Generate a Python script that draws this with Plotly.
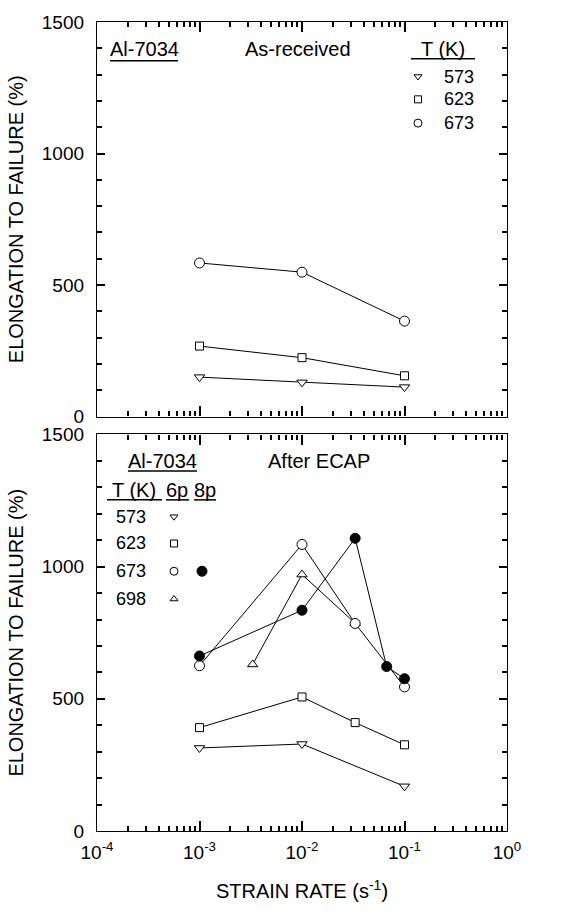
import plotly.graph_objects as go

# ---------------- data ----------------
rate_top = [1e-3, 1e-2, 1e-1]
top_573 = [150, 130, 112]
top_623 = [268, 224, 155]
top_673 = [584, 549, 363]

rate_573 = [1e-3, 1e-2, 1e-1]
ecap_573 = [314, 329, 169]
rate_623 = [1e-3, 1e-2, 3.3e-2, 1e-1]
ecap_623 = [391, 507, 410, 326]
rate_673_6p = [1e-3, 1e-2, 3.3e-2, 1e-1]
ecap_673_6p = [625, 1084, 785, 545]
rate_698 = [3.3e-3, 1e-2, 3.3e-2]
ecap_698 = [630, 970, 786]
rate_673_8p = [1e-3, 1e-2, 3.3e-2, 6.7e-2, 1e-1]
ecap_673_8p = [662, 835, 1107, 622, 576]

x_tickvals = [1e-4, 1e-3, 1e-2, 1e-1, 1]
x_ticktext = ["10<sup>-4</sup>", "10<sup>-3</sup>", "10<sup>-2</sup>", "10<sup>-1</sup>", "10<sup>0</sup>"]
y_tickvals = [0, 500, 1000, 1500]
temps_top = ["573", "623", "673"]
temps_bottom = ["573", "623", "673", "698"]

# ---------------- layout geometry (pixels) ----------------
W, H = 578, 911
L, R, T, B = 97, 71, 20, 75
PW, PH = W - L - R, H - T - B
top_px = (20, 418)
bot_px = (436, 836)
XMIN, XMAX = -4, 0
YMIN, YMAX = 0, 1500


def px(xp):
    return (xp - L) / PW


def py(yp):
    return (H - B - yp) / PH


def data_x(xp):
    return 10 ** (XMIN + (xp - L) / PW * (XMAX - XMIN))


def data_y(yp, panel):
    y0, y1 = panel
    return YMIN + (y1 - yp) / (y1 - y0) * (YMAX - YMIN)


FONT = "Liberation Sans, Arial, sans-serif"
BLACK = "black"

fig = go.Figure()


def mk_style(symbol, size, filled=False):
    return dict(symbol=symbol, size=size, color=BLACK if filled else "white",
                line=dict(color=BLACK, width=1))


def add_series(x, y, symbol, size, xa, ya, filled=False):
    fig.add_trace(go.Scatter(x=x, y=y, mode="lines+markers", xaxis=xa, yaxis=ya,
                             line=dict(color=BLACK, width=1),
                             marker=mk_style(symbol, size, filled),
                             showlegend=False, hoverinfo="skip"))


# top panel
add_series(rate_top, top_573, "triangle-down", 9, "x", "y")
add_series(rate_top, top_623, "square", 8, "x", "y")
add_series(rate_top, top_673, "circle", 10, "x", "y")
# bottom panel
add_series(rate_573, ecap_573, "triangle-down", 9, "x2", "y2")
add_series(rate_623, ecap_623, "square", 8, "x2", "y2")
add_series(rate_698, ecap_698, "triangle-up", 9, "x2", "y2")
add_series(rate_673_6p, ecap_673_6p, "circle", 10, "x2", "y2")
add_series(rate_673_8p, ecap_673_8p, "circle", 10, "x2", "y2", filled=True)

# legend keys (positions in pixels converted through axis scales)
leg_top_x = 418
leg_top_y = [75, 98, 122]
leg_top_sym = ["triangle-down", "square", "circle"]
leg_top_size = [7, 7, 8]
for s, yp, sz in zip(leg_top_sym, leg_top_y, leg_top_size):
    fig.add_trace(go.Scatter(x=[data_x(leg_top_x)], y=[data_y(yp, top_px)], mode="markers",
                             xaxis="x", yaxis="y", marker=mk_style(s, sz),
                             showlegend=False, hoverinfo="skip"))
leg_bot_x = 174
leg_bot_y = [519, 546, 574, 602]
leg_bot_sym = ["triangle-down", "square", "circle", "triangle-up"]
leg_bot_size = [7, 7, 8, 7]
for s, yp, sz in zip(leg_bot_sym, leg_bot_y, leg_bot_size):
    fig.add_trace(go.Scatter(x=[data_x(leg_bot_x)], y=[data_y(yp, bot_px)], mode="markers",
                             xaxis="x2", yaxis="y2", marker=mk_style(s, sz),
                             showlegend=False, hoverinfo="skip"))
fig.add_trace(go.Scatter(x=[data_x(202)], y=[data_y(574, bot_px)], mode="markers",
                         xaxis="x2", yaxis="y2", marker=mk_style("circle", 10, True),
                         showlegend=False, hoverinfo="skip"))

minor_x = [m * 10 ** e for e in range(-4, 0) for m in range(2, 10)]

xcommon = dict(type="log", range=[XMIN, XMAX], tickvals=x_tickvals,
               ticks="inside", ticklen=10, tickwidth=1.5, tickcolor=BLACK,
               minor=dict(tickmode="array", tickvals=minor_x, ticks="inside", ticklen=5,
                          tickwidth=1.5, tickcolor=BLACK),
               showline=True, linecolor=BLACK, linewidth=1.3, mirror="allticks",
               showgrid=False)
ycommon = dict(range=[YMIN, YMAX], tickvals=y_tickvals,
               ticks="inside", ticklen=8, tickwidth=1.5, tickcolor=BLACK,
               minor=dict(dtick=100, ticks="inside", ticklen=5,
                          tickwidth=1.5, tickcolor=BLACK),
               showline=True, linecolor=BLACK, linewidth=1.3, mirror="allticks",
               showgrid=False, ticklabelstandoff=8,
               tickfont=dict(family=FONT, size=19, color=BLACK),
               title=dict(text="ELONGATION TO FAILURE (%)", standoff=12,
                          font=dict(family=FONT, size=20, color=BLACK)))

fig.update_layout(
    width=W, height=H, margin=dict(l=L, r=R, t=T, b=B),
    paper_bgcolor="white", plot_bgcolor="white",
    font=dict(family=FONT, color=BLACK),
    xaxis=dict(**xcommon, anchor="y", showticklabels=False, domain=[0, 1]),
    yaxis=dict(**ycommon, anchor="x", domain=[py(top_px[1]), py(top_px[0])]),
    xaxis2=dict(**xcommon, anchor="y2", ticktext=x_ticktext, domain=[0, 1],
                ticklabelstandoff=4,
                tickfont=dict(family=FONT, size=19, color=BLACK),
                title=dict(text="STRAIN RATE (s<sup>-1</sup>)", standoff=22,
                           font=dict(family=FONT, size=20, color=BLACK))),
    yaxis2=dict(**ycommon, anchor="x2", domain=[py(bot_px[1]), py(bot_px[0])]),
)

ann = []
shapes = []


def text(xp, yp, s, size=19, xanchor="center"):
    ann.append(dict(x=px(xp), y=py(yp), xref="paper", yref="paper", text=s, showarrow=False,
                    xanchor=xanchor, yanchor="middle",
                    font=dict(family=FONT, size=size, color=BLACK)))


def uline(x0, x1, yp):
    shapes.append(dict(type="line", xref="paper", yref="paper", x0=px(x0), x1=px(x1),
                       y0=py(yp), y1=py(yp), line=dict(color=BLACK, width=1.5)))


# top panel texts
text(144, 47, "Al-7034", 20)
uline(110, 178, 59)
text(298, 47, "As-received", 20)
text(443, 47, "T (K)", 20)
uline(411, 475, 57)
for t, yv in zip(temps_top, leg_top_y):
    text(476, yv, t, 18, xanchor="right")

# bottom panel texts
text(162, 463, "Al-7034", 20)
uline(128, 197, 473)
text(319, 463, "After ECAP", 20)
text(134, 492, "T (K)", 20)
uline(107, 162, 502)
text(177, 492, "6p", 20)
uline(166, 189, 502)
text(205, 492, "8p", 20)
uline(194, 216, 502)
for t, yv in zip(temps_bottom, leg_bot_y):
    text(131, yv, t, 18)

fig.update_layout(annotations=ann, shapes=shapes)

fig.write_html("out.html")
